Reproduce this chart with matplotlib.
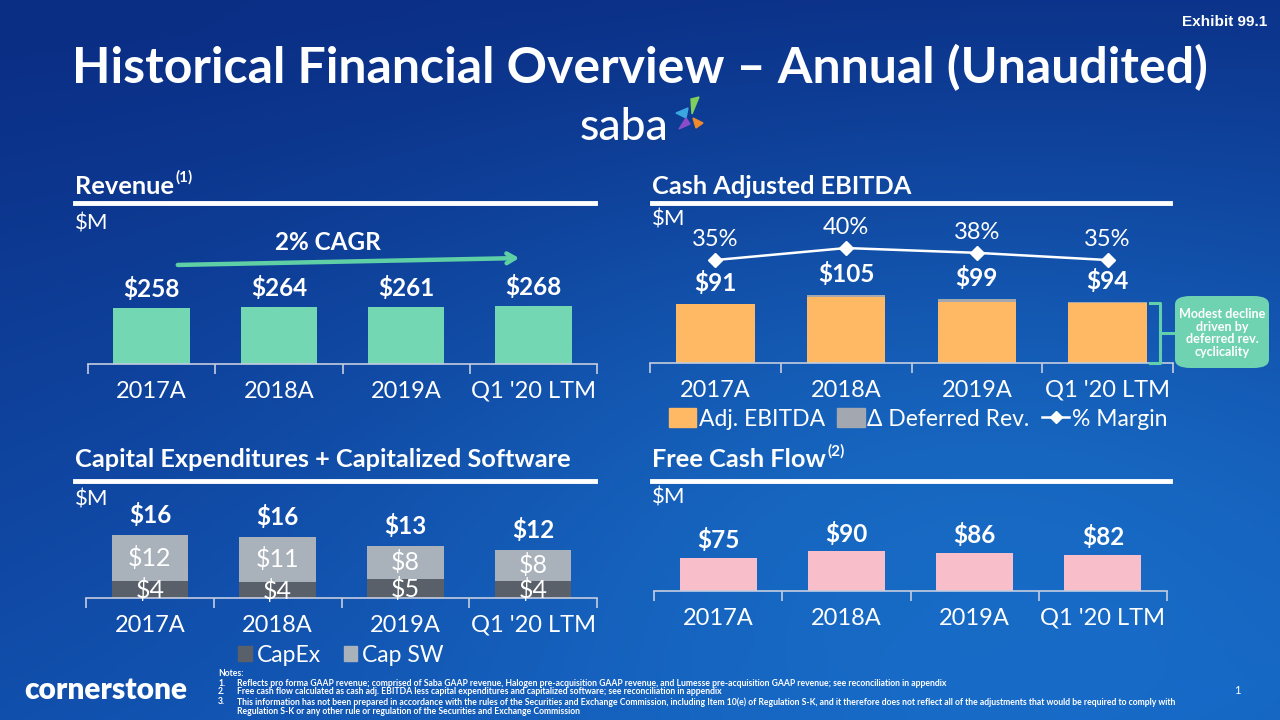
import numpy as np
import matplotlib
matplotlib.use("Agg")
import matplotlib.pyplot as plt
from matplotlib.patches import Rectangle, FancyBboxPatch, Polygon
from matplotlib.lines import Line2D

# ---------------- data ----------------
categories = ["2017A", "2018A", "2019A", "Q1 '20 LTM"]
revenue = [258, 264, 261, 268]
adj_ebitda = [91, 101, 94, 93]
deferred_rev = [0, 4, 5, 1]
ebitda_total = [91, 105, 99, 94]
margin_pct = [35, 40, 38, 35]
capex = [4.3, 4.2, 5.0, 4.4]
cap_sw = [11.9, 11.4, 8.3, 7.9]
fcf = [75, 90, 86, 82]
cagr_label = "2% CAGR"
notes = [
    "Reflects pro forma GAAP revenue; comprised of Saba GAAP revenue, Halogen pre-acquisition GAAP revenue, and Lumesse pre-acquisition GAAP revenue; see reconciliation in appendix",
    "Free cash flow calculated as cash adj. EBITDA less capital expenditures and capitalized software; see reconciliation in appendix",
    "This information has not been prepared in accordance with the rules of the Securities and Exchange Commission, including Item 10(e) of Regulation S-K, and it therefore does not reflect all of the adjustments that would be required to comply with",
]
note3_cont = "Regulation S-K or any other rule or regulation of the Securities and Exchange Commission"

# ---------------- style ----------------
W, H = 1280, 720
FONT = ["Lato", "DejaVu Sans"]
plt.rcParams["font.family"] = FONT
WHITE = "white"
MINT = "#72d7b2"
ORANGE = "#ffb863"
GRAY_DEF = "#a3a8b0"
CAPEX_C = "#596069"
CAPSW_C = "#a9b1bb"
PINK = "#f8bfcb"
AXIS_C = "#c5cde0"
TICK_FS = 17
VAL_FS = 17.5
HEAD_FS = 18.3

fig = plt.figure(figsize=(W / 100, H / 100), dpi=100)

# background gradient
bg = fig.add_axes([0, 0, 1, 1], zorder=-10)
yy, xx = np.mgrid[0:1:200j, 0:1:360j]
t = np.clip(0.75 * yy + 0.35 * xx * yy + 0.1 * xx * (1 - yy) - 0.05, 0, 1)
glow = np.exp(-(((xx - 0.75) / 0.45) ** 2 + ((yy - 0.75) / 0.5) ** 2))
c0 = np.array([0x0b, 0x2e, 0x85]) / 255
c1 = np.array([0x13, 0x5c, 0xbc]) / 255
c2 = np.array([0x1e, 0x84, 0xda]) / 255
img = c0[None, None, :] * (1 - t[..., None]) + c1[None, None, :] * t[..., None]
img = img * (1 - 0.5 * glow[..., None]) + c2[None, None, :] * 0.5 * glow[..., None]
bg.imshow(img, extent=[0, 1, 0, 1], aspect="auto", origin="upper")
bg.set_axis_off()


def fx(x):
    return x / W


def fy(y):
    return 1 - y / H


def ftext(x, y, s, **kw):
    kw.setdefault("color", WHITE)
    return fig.text(fx(x), fy(y), s, **kw)


def hline(x0, x1, y, lw=3.5, color=WHITE):
    fig.add_artist(Line2D([fx(x0), fx(x1)], [fy(y), fy(y)], color=color, lw=lw,
                          transform=fig.transFigure))


def make_ax(x0, x1, base, top, ymax):
    ax = fig.add_axes([fx(x0), fy(base), fx(x1) - fx(x0), (base - top) / H])
    ax.set_facecolor("none")
    ax.set_xlim(-0.5, 3.5)
    ax.set_ylim(0, ymax)
    for s in ["top", "right", "left"]:
        ax.spines[s].set_visible(False)
    ax.spines["bottom"].set_color(AXIS_C)
    ax.spines["bottom"].set_linewidth(1.2)
    ax.set_yticks([])
    ax.set_xticks(range(4))
    ax.set_xticklabels(categories, fontsize=TICK_FS, color=WHITE)
    ax.tick_params(axis="x", which="major", length=0, pad=12)
    ax.set_xticks([-0.5, 0.5, 1.5, 2.5, 3.5], minor=True)
    ax.tick_params(axis="x", which="minor", length=7, color=AXIS_C, width=1.2, direction="out")
    return ax


def header(x, y, main, sup=None):
    t = ftext(x, y, main, fontsize=HEAD_FS, fontweight="bold", ha="left", va="center")
    if sup:
        fig.canvas.draw()
        bb = t.get_window_extent()
        fig.text(bb.x1 / W + 0.001, fy(y - 9), sup, fontsize=11, fontweight="bold",
                 color=WHITE, ha="left", va="center")


# ---------------- titles ----------------
ftext(640, 68, "Historical Financial Overview \u2013 Annual (Unaudited)", fontsize=36,
      fontweight="bold", ha="center", va="center")
ftext(1225, 22, "Exhibit 99.1", fontsize=11, fontweight="bold", ha="center", va="center",
      family=["Liberation Sans", "DejaVu Sans"])

# saba logo
ftext(624, 128, "saba", fontsize=32, ha="center", va="center", fontweight="medium")
petals = [
    ([(676, 113), (688, 108), (686, 118)], "#3aa7e0"),
    ([(691, 99), (699, 97), (692, 114)], "#7fcf5a"),
    ([(679, 129), (686, 118), (690, 124)], "#8a4cc9"),
    ([(693, 118), (703, 123), (696, 128)], "#f08a2c"),
]
for pts, col in petals:
    fig.add_artist(Polygon([(fx(a), fy(b)) for a, b in pts], closed=True, color=col,
                           transform=fig.transFigure))

# section headers
header(75, 186, "Revenue", "(1)")
hline(75, 595, 203)
ftext(75, 224, "$M", fontsize=16, ha="left", va="center")

header(652, 186, "Cash Adjusted EBITDA")
hline(652, 1170, 203)
ftext(652, 220, "$M", fontsize=16, ha="left", va="center")

header(75, 460, "Capital Expenditures + Capitalized Software")
hline(75, 595, 481)
ftext(75, 500, "$M", fontsize=16, ha="left", va="center")

header(652, 460, "Free Cash Flow", "(2)")
hline(652, 1170, 481)
ftext(652, 497, "$M", fontsize=16, ha="left", va="center")

x = np.arange(4)
BW = 0.6

# ---------------- Revenue ----------------
ax1 = make_ax(88, 597, 364, 244, 120 / 0.217)
ax1.bar(x, revenue, width=BW, color=MINT)
for i, v in enumerate(revenue):
    ax1.text(i, v + 33, f"${v}", ha="center", va="bottom", fontsize=VAL_FS, fontweight="bold",
             color=WHITE)
ax1.annotate("", xy=(fx(522), fy(258)), xytext=(fx(175), fy(265)), xycoords="figure fraction",
             textcoords="figure fraction",
             arrowprops=dict(arrowstyle="->,head_length=0.6,head_width=0.35", color="#5fcfa6", lw=3.2))
ftext(328, 242, cagr_label, fontsize=17.5, fontweight="bold", ha="center", va="center")

# ---------------- EBITDA ----------------
ax2 = make_ax(650, 1173, 363, 243, 120 / 0.65)
ax2.bar(x, adj_ebitda, width=BW, color=ORANGE)
ax2.bar(x, deferred_rev, bottom=adj_ebitda, width=BW, color=GRAY_DEF)
for i, v in enumerate(ebitda_total):
    ax2.text(i, adj_ebitda[i] + deferred_rev[i] + 13, f"${v}", ha="center", va="bottom",
             fontsize=VAL_FS, fontweight="bold", color=WHITE)
ax2b = ax2.twinx()
ax2b.set_ylim(-7.9, 42.1)
ax2b.set_axis_off()
ax2b.plot(x, margin_pct, color=WHITE, lw=1.8, marker="D", ms=7, mfc=WHITE, mec=WHITE,
          clip_on=False)
for i, v in enumerate(margin_pct):
    ax2b.text(i, v + 4.0, f"{v}%", ha="center", va="bottom", fontsize=TICK_FS, color=WHITE,
              clip_on=False)

# legend for EBITDA
h1 = Rectangle((0, 0), 1, 1, color=ORANGE)
h2 = Rectangle((0, 0), 1, 1, color=GRAY_DEF)
h3 = Line2D([], [], color=WHITE, lw=1.8, marker="D", ms=6)
leg = fig.legend([h1, h2, h3], ["Adj. EBITDA", "\u0394 Deferred Rev.", "% Margin"],
                 loc="center", bbox_to_anchor=(fx(918), fy(419)), ncol=3, frameon=False,
                 fontsize=16.5, handlelength=1.2, handleheight=0.9, handletextpad=0.1,
                 columnspacing=0.55, labelcolor=WHITE, numpoints=1)

# callout bracket and box
bx = [1150, 1160, 1160, 1150]
by = [303, 303, 363, 363]
fig.add_artist(Line2D([fx(v) for v in bx], [fy(v) for v in by], color="#63d0ad", lw=2.2,
                      transform=fig.transFigure))
fig.add_artist(Line2D([fx(1160), fx(1173)], [fy(333), fy(333)], color="#63d0ad", lw=2.2,
                      transform=fig.transFigure))
box = FancyBboxPatch((fx(1175), fy(368)), fx(1269) - fx(1175), (368 - 296) / H,
                     boxstyle="round,pad=0,rounding_size=0.012", transform=fig.transFigure,
                     facecolor="#6fd3b1", edgecolor="none")
fig.add_artist(box)
ftext(1222, 333, "Modest decline\ndriven by\ndeferred rev.\ncyclicality", fontsize=9.1,
      fontweight="bold", ha="center", va="center", linespacing=1.05)

# ---------------- CapEx ----------------
ax3 = make_ax(86, 597, 598, 478, 120 / 3.9)
ax3.bar(x, capex, width=BW, color=CAPEX_C)
ax3.bar(x, cap_sw, bottom=capex, width=BW, color=CAPSW_C)
for i in range(4):
    tot = capex[i] + cap_sw[i]
    ax3.text(i, tot + 2.0, f"${round(tot)}", ha="center", va="bottom", fontsize=VAL_FS,
             fontweight="bold", color=WHITE)
    ax3.text(i, capex[i] + cap_sw[i] / 2, f"${round(cap_sw[i])}", ha="center", va="center",
             fontsize=18, color=WHITE)
    ax3.text(i, capex[i] / 2 - 0.2, f"${round(capex[i])}", ha="center", va="center",
             fontsize=18, color=WHITE, clip_on=False)
hc1 = Rectangle((0, 0), 1, 1, color=CAPEX_C)
hc2 = Rectangle((0, 0), 1, 1, color=CAPSW_C)
fig.legend([hc1, hc2], ["CapEx", "Cap SW"], loc="center", bbox_to_anchor=(fx(341), fy(655)),
           ncol=2, frameon=False, fontsize=16.5, handlelength=0.6, handleheight=0.6,
           handletextpad=0.2, columnspacing=1.0, labelcolor=WHITE)

# ---------------- FCF ----------------
ax4 = make_ax(654, 1167, 591, 471, 120 / 0.44)
ax4.bar(x, fcf, width=BW, color=PINK)
for i, v in enumerate(fcf):
    ax4.text(i, v + 13, f"${v}", ha="center", va="bottom", fontsize=VAL_FS, fontweight="bold",
             color=WHITE)

# ---------------- footer ----------------
ftext(24, 690, "cornerstone", fontsize=21.5, fontweight="heavy", ha="left", va="center")
NFS = 6.2
ftext(218, 673, "Notes:", fontsize=NFS, fontweight="bold", ha="left", va="center")
ys = [683, 692, 702]
for k, (yv, n) in enumerate(zip(ys, notes)):
    ftext(218, yv, f"{k + 1}.", fontsize=NFS, fontweight="bold", ha="left", va="center")
    ftext(237, yv, n, fontsize=NFS, fontweight="bold", ha="left", va="center")
ftext(237, 712, note3_cont, fontsize=NFS, fontweight="bold", ha="left", va="center")
ftext(1237, 690, "1", fontsize=8, ha="center", va="center")

fig.savefig("out.png", dpi=100)
